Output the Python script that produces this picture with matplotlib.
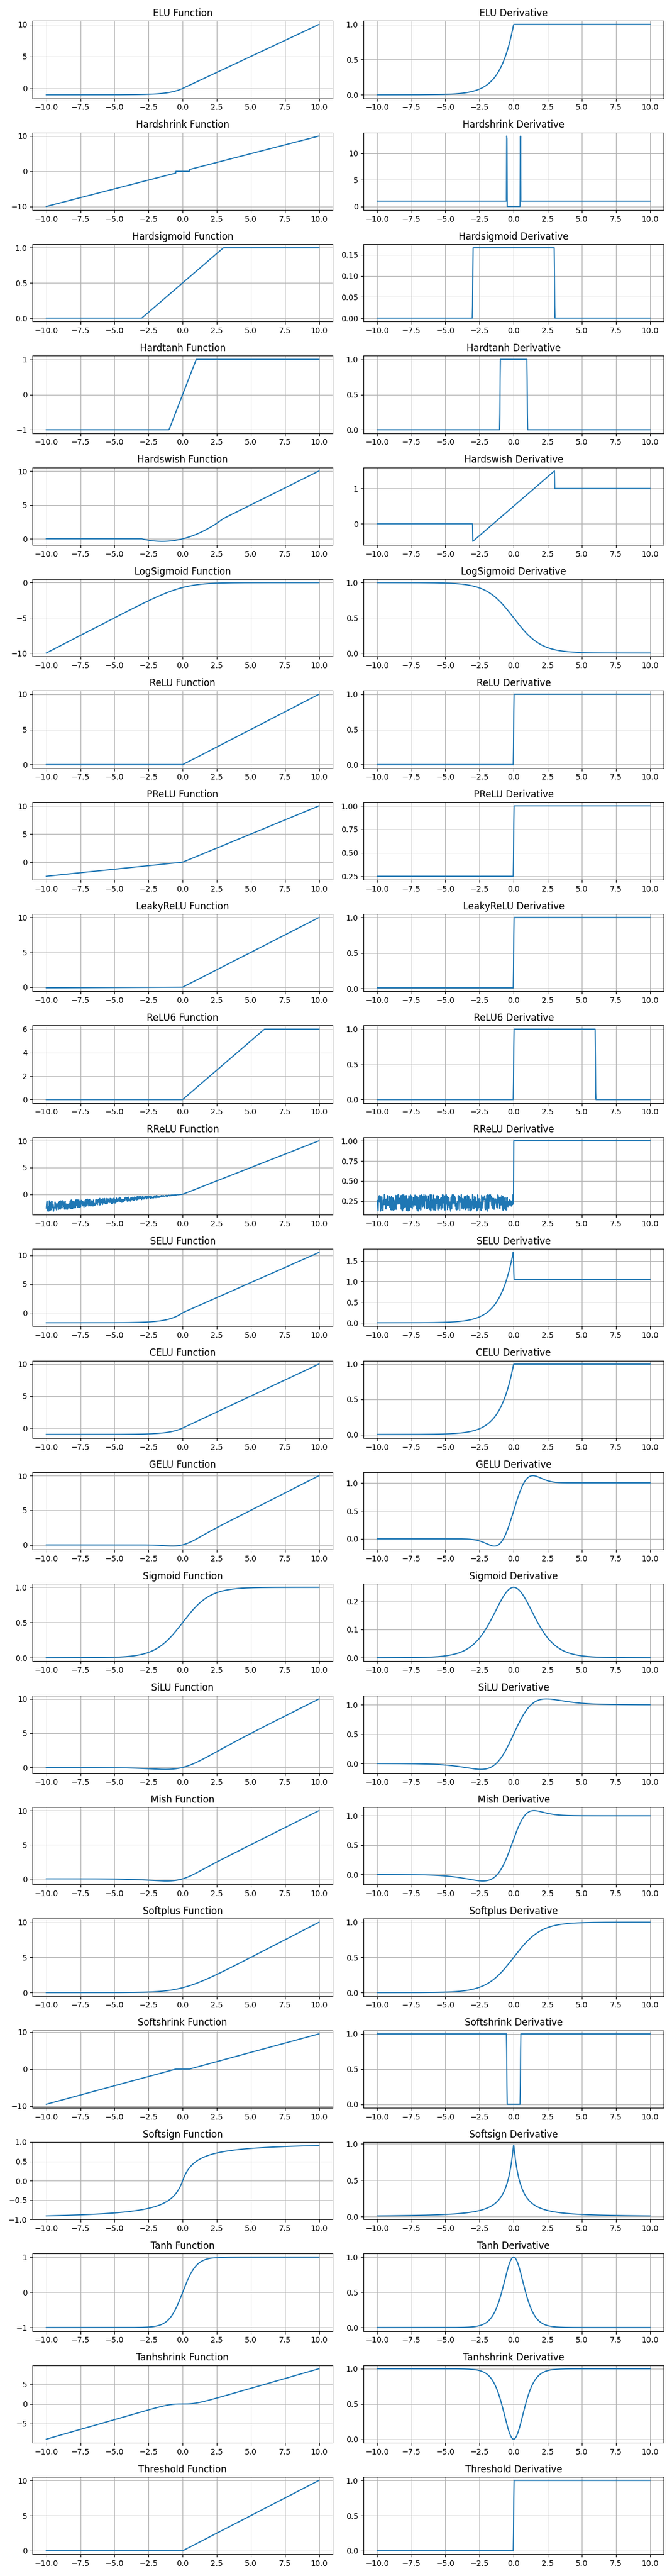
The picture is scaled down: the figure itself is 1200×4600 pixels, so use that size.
import numpy as np
import matplotlib
matplotlib.use("Agg")
import matplotlib.pyplot as plt

x = np.linspace(-10, 10, 1000)
rng = np.random.default_rng(0)
rrelu_slope = np.where(x >= 0, 1.0, rng.uniform(1 / 8, 1 / 3, x.size))

sig = 1 / (1 + np.exp(-x))
alpha_selu, scale_selu = 1.6732632423543772, 1.0507009873554805
softplus = np.log1p(np.exp(x))

names = ["ELU", "Hardshrink", "Hardsigmoid", "Hardtanh", "Hardswish", "LogSigmoid",
         "ReLU", "PReLU", "LeakyReLU", "ReLU6", "RReLU", "SELU", "CELU", "GELU",
         "Sigmoid", "SiLU", "Mish", "Softplus", "Softshrink", "Softsign", "Tanh",
         "Tanhshrink", "Threshold"]

from math import erf
erf_v = np.vectorize(erf)

funcs = {
    "ELU": np.where(x > 0, x, np.exp(x) - 1),
    "Hardshrink": np.where(np.abs(x) > 0.5, x, 0),
    "Hardsigmoid": np.clip(x / 6 + 0.5, 0, 1),
    "Hardtanh": np.clip(x, -1, 1),
    "Hardswish": x * np.clip(x + 3, 0, 6) / 6,
    "LogSigmoid": np.log(sig),
    "ReLU": np.maximum(x, 0),
    "PReLU": np.where(x > 0, x, 0.25 * x),
    "LeakyReLU": np.where(x > 0, x, 0.01 * x),
    "ReLU6": np.clip(x, 0, 6),
    "RReLU": x * rrelu_slope,
    "SELU": scale_selu * np.where(x > 0, x, alpha_selu * (np.exp(x) - 1)),
    "CELU": np.where(x > 0, x, np.exp(x) - 1),
    "GELU": 0.5 * x * (1 + erf_v(x / np.sqrt(2))),
    "Sigmoid": sig,
    "SiLU": x * sig,
    "Mish": x * np.tanh(softplus),
    "Softplus": softplus,
    "Softshrink": np.where(x > 0.5, x - 0.5, np.where(x < -0.5, x + 0.5, 0)),
    "Softsign": x / (1 + np.abs(x)),
    "Tanh": np.tanh(x),
    "Tanhshrink": x - np.tanh(x),
    "Threshold": np.where(x > 0, x, 0),
}

derivs = {}
for n in names:
    if n == "RReLU":
        derivs[n] = rrelu_slope
    elif n == "Hardswish":
        derivs[n] = np.where(x < -3, 0, np.where(x > 3, 1, (2 * x + 3) / 6))
    else:
        derivs[n] = np.gradient(funcs[n], x)

fig, axes = plt.subplots(len(names), 2, figsize=(12, 46))
for i, n in enumerate(names):
    axes[i, 0].plot(x, funcs[n])
    axes[i, 0].set_title(f"{n} Function")
    axes[i, 1].plot(x, derivs[n])
    axes[i, 1].set_title(f"{n} Derivative")
    for ax in axes[i]:
        ax.grid(True)
plt.tight_layout()
plt.savefig("out.png", dpi=100)
